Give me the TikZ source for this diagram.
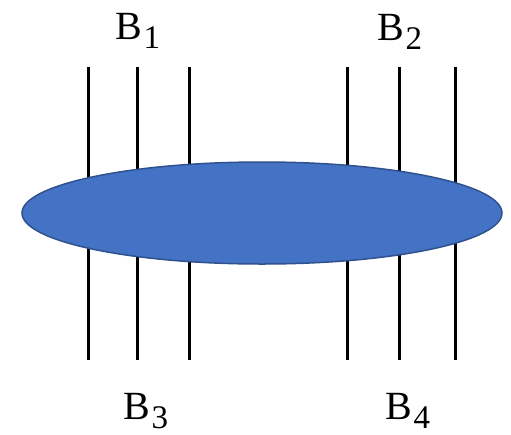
\documentclass[tikz,border=0pt]{standalone}
\usepackage{fontspec}
\setmainfont{Liberation Serif}
\usetikzlibrary{shapes.geometric}
\definecolor{blobfill}{HTML}{4472C4}
\definecolor{blobdraw}{HTML}{2F528F}
\newcommand{\blabel}[1]{B\kern1pt\raisebox{-9pt}{\fontsize{33}{33}\selectfont #1}}
\tikzset{
  strand/.style={line width=3pt, black},
  blob/.style={ellipse, fill=blobfill, draw=blobdraw, line width=1.5pt, minimum width=480pt, minimum height=102pt, inner sep=0pt},
  lbl/.style={anchor=base, inner sep=0pt, font=\fontsize{40}{42}\selectfont}
}
\begin{document}
\begin{tikzpicture}[x=1pt,y=-1pt]
\useasboundingbox (0,0) rectangle (511,434);
\foreach \i/\x in {1/88,2/137,3/189,4/347,5/399,6/455}{
  \coordinate (t\i) at (\x,67);
  \coordinate (b\i) at (\x,360);
  \draw[strand] (t\i) -- (b\i);
}
\node[blob] (blob) at (262,213) {};
\node[lbl] (l1) at (138,39) {\blabel{1}};
\node[lbl] (l2) at (400,40) {\blabel{2}};
\node[lbl] (l3) at (146,419) {\blabel{3}};
\node[lbl] (l4) at (408,419) {\blabel{4}};
\end{tikzpicture}
\end{document}
